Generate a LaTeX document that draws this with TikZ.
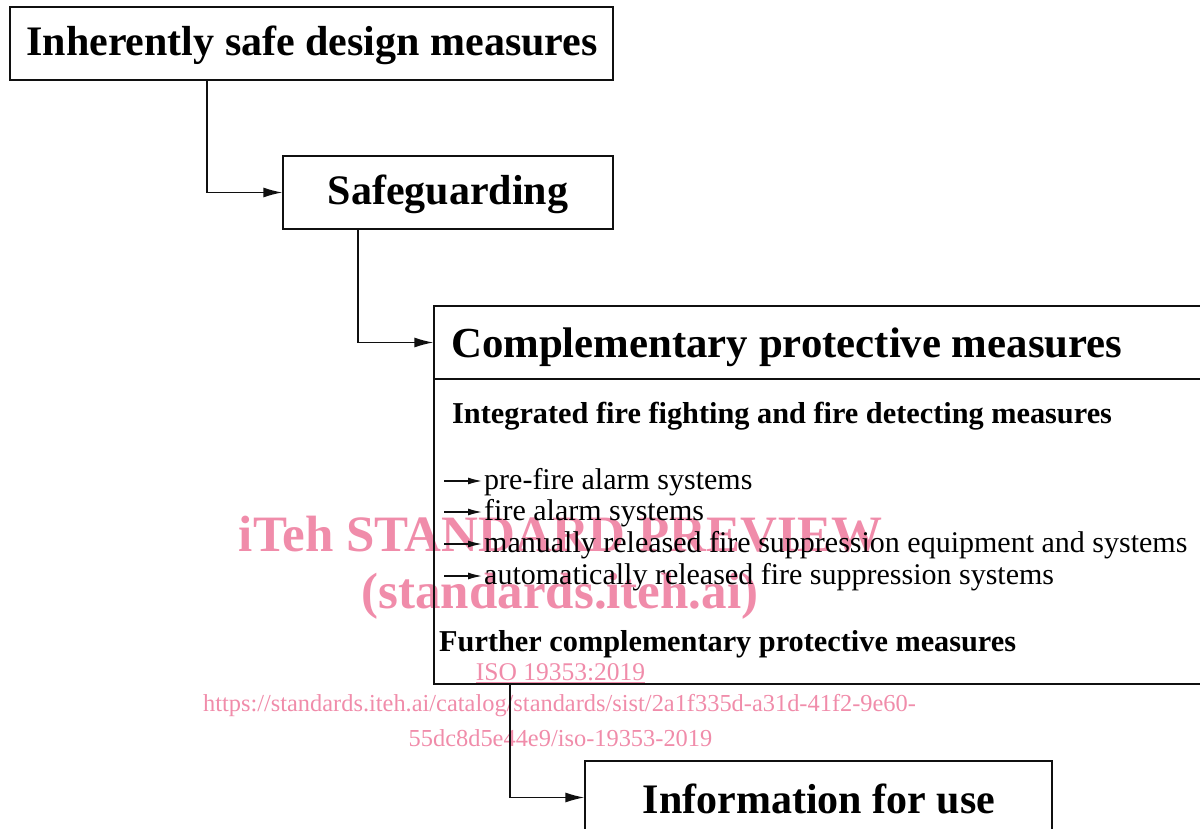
\documentclass[tikz,border=0pt]{standalone}
\usepackage{fontspec}
\setmainfont{Liberation Serif}
\usetikzlibrary{positioning,calc,arrows.meta}
\definecolor{isoLine}{HTML}{101010}
\definecolor{isoMark}{HTML}{F08CAA}

\tikzset{
  stagebox/.style={draw=isoLine, line width=1.3pt, inner sep=0pt},
  bigtitle/.style={font=\bfseries\fontsize{42}{48}\selectfont, inner sep=0pt},
  subtitle/.style={font=\bfseries\fontsize{30.3}{36}\selectfont, anchor=west, inner sep=0pt},
  itemtext/.style={font=\fontsize{30}{36}\selectfont, anchor=west, inner sep=0pt},
  conn/.style={draw=isoLine, line width=1.4pt, -{Latex[length=19pt,width=10pt]}},
  itemarrow/.style={draw=isoLine, line width=1.4pt, -{Latex[length=14pt,width=7pt]}},
  wmark/.style={text=isoMark, inner sep=0pt},
}

\begin{document}
\begin{tikzpicture}[x=1pt, y=-1pt]
\useasboundingbox (0,0) rectangle (1200,829);

% --- WATERMARK (behind the chart) ---
\node[wmark, font=\bfseries\fontsize{51}{56}\selectfont] (wm1) at (560.5,534) {iTeh STANDARD PREVIEW};
\node[wmark, font=\bfseries\fontsize{51}{56}\selectfont] (wm2) at (560,596) {(standards.iteh.ai)};
\node[wmark, font=\fontsize{25.5}{30}\selectfont] (wm3) at (560.5,673) {\underline{ISO 19353:2019}};
\node[wmark, font=\fontsize{24.4}{30}\selectfont] (wm4) at (559.5,706) {https://standards.iteh.ai/catalog/standards/sist/2a1f335d-a31d-41f2-9e60-};
\node[wmark, font=\fontsize{24.4}{30}\selectfont] (wm5) at (560.5,738) {55dc8d5e44e9/iso-19353-2019};

% --- STAGES ---
\node[stagebox, minimum width=603pt, minimum height=73pt] (ish) at (311.5,43.5) {};
\node[bigtitle] (ishtext) at (312,45.5) {Inherently safe design measures};

\node[stagebox, minimum width=330pt, minimum height=73pt] (sg) at (448,192.5) {};
\node[bigtitle] (sgtext) at (448,194) {Safeguarding};

\node[stagebox, minimum width=776pt, minimum height=73pt] (cpmhead) at (822,342.5) {};
\node[stagebox, minimum width=776pt, minimum height=305pt] (cpm) at (822,531.5) {};
\node[bigtitle, anchor=west, font=\bfseries\fontsize{42.8}{48}\selectfont] (cpmtext) at (451,347) {Complementary protective measures};

\node[stagebox, minimum width=467pt, minimum height=79pt] (ifu) at (818.5,800.5) {};
\node[bigtitle] (ifutext) at (819,799) {Information for use};

% --- CONTENTS OF COMPLEMENTARY MEASURES ---
\node[subtitle] (fire) at (452,416) {Integrated fire fighting and fire detecting measures};
\foreach \name/\ypos/\txt in {
  prefire/482/pre-fire alarm systems,
  alarm/513/fire alarm systems,
  manual/545/manually released fire suppression equipment and systems,
  auto/577/automatically released fire suppression systems%
} {
  \node[itemtext] (\name) at (484,\ypos) {\txt};
  \draw[itemarrow] ([xshift=-40pt,yshift=1pt]\name.west) -- ([xshift=-2pt,yshift=1pt]\name.west);
}
\node[subtitle] (further) at (439,644) {Further complementary protective measures};

% --- CONNECTORS ---
\draw[conn] ($(ish.south west)+(197.5,0)$) |- (sg.west);
\draw[conn] ($(sg.south west)+(75.5,0)$) |- (cpmhead.west);
\draw[conn] ($(cpm.south west)+(76.5,0)$) |- ($(ifu.west)+(0,-3)$);
\end{tikzpicture}
\end{document}
